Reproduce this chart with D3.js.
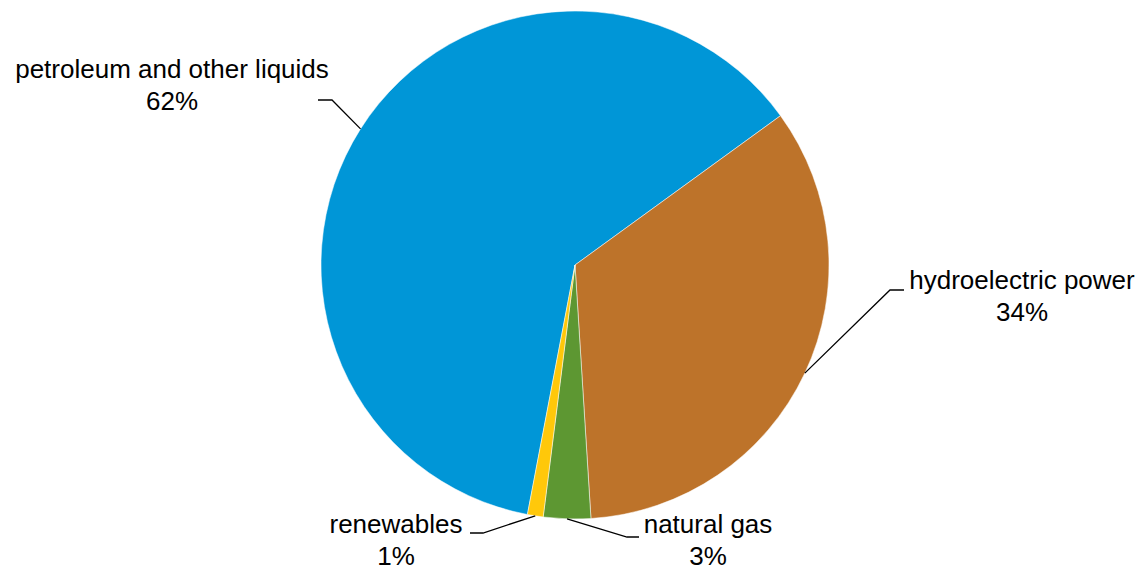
<!DOCTYPE html>
<html>
<head>
<meta charset="utf-8">
<script src="https://cdn.jsdelivr.net/npm/d3@7"></script>
<style>
  body { margin: 0; background: #fff; }
  text { font-family: "Liberation Sans", Arial, sans-serif; font-size: 26px; fill: #000; }
</style>
</head>
<body>
<div id="chart"></div>
<script>
// data
var categories = ["petroleum and other liquids", "hydroelectric power", "natural gas", "renewables"];
var shares = [62, 34, 3, 1];
var sliceColors = ["#0096d7", "#bd732a", "#5d9732", "#ffc80a"];

// label layout: elbow of the leader line, end of the short horizontal piece, text anchor
var labelLayout = [
  { elbow: [332, 100], end: [318, 100], text: [172, 78] },
  { elbow: [890, 290], end: [904, 290], text: [1022, 289] },
  { elbow: [627, 537], end: [639, 537], text: [708, 533] },
  { elbow: [483, 533], end: [470, 533], text: [396, 533] }
];

var width = 1143, height = 569;
var cx = 575, cy = 265, radius = 254;

var svg = d3.select("#chart")
  .append("svg")
    .attr("width", width)
    .attr("height", height);

var g = svg.append("g")
  .attr("transform", "translate(" + cx + "," + cy + ")");

var start = 190.8 * Math.PI / 180;
var pie = d3.pie()
  .sort(null)
  .startAngle(start)
  .endAngle(start + 2 * Math.PI)
  .value(function(d) { return d; });

var arcs = pie(shares);

var arc = d3.arc().innerRadius(0).outerRadius(radius);

g.selectAll("path.slice")
  .data(arcs)
  .join("path")
    .attr("class", "slice")
    .attr("d", arc)
    .style("fill", function(d, i) { return sliceColors[i]; })
    .style("stroke", "#fff")
    .style("stroke-width", 0.5);

// leader lines
svg.selectAll("polyline.leader")
  .data(arcs)
  .join("polyline")
    .attr("class", "leader")
    .attr("points", function(d, i) {
      var a = (d.startAngle + d.endAngle) / 2;
      var px = cx + radius * Math.sin(a);
      var py = cy - radius * Math.cos(a);
      var L = labelLayout[i];
      return [[px, py], L.elbow, L.end].map(function(p) { return p.join(","); }).join(" ");
    })
    .style("fill", "none")
    .style("stroke", "#000")
    .style("stroke-width", 1.3);

// labels
var labels = svg.selectAll("text.label")
  .data(arcs)
  .join("text")
    .attr("class", "label")
    .attr("text-anchor", "middle")
    .attr("x", function(d, i) { return labelLayout[i].text[0]; })
    .attr("y", function(d, i) { return labelLayout[i].text[1]; });

labels.append("tspan")
  .attr("x", function(d, i) { return labelLayout[i].text[0]; })
  .text(function(d, i) { return categories[i]; });

labels.append("tspan")
  .attr("x", function(d, i) { return labelLayout[i].text[0]; })
  .attr("dy", 32)
  .text(function(d, i) { return shares[i] + "%"; });
</script>
</body>
</html>
